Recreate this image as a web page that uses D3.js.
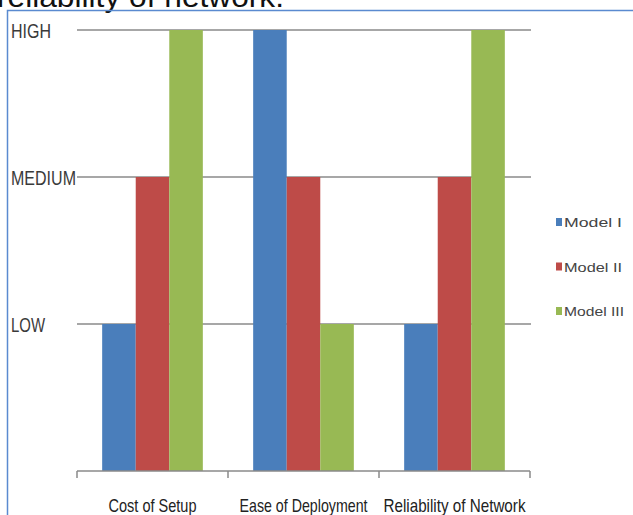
<!DOCTYPE html>
<html>
<head>
<meta charset="utf-8">
<script src="https://cdn.jsdelivr.net/npm/d3@7/dist/d3.min.js"></script>
<style>
  html, body { margin: 0; padding: 0; background: #fff; overflow: hidden; }
  svg { display: block; }
  text { font-family: "Liberation Sans", Arial, sans-serif; }
</style>
</head>
<body>
<script>
// Comparison of three deployment models on a LOW / MEDIUM / HIGH scale
const categories = ["Cost of Setup", "Ease of Deployment", "Reliability of Network"];
const seriesNames = ["Model I", "Model II", "Model III"];
const model1 = [1, 3, 1];
const model2 = [2, 2, 2];
const model3 = [3, 1, 3];
const levelLabels = ["LOW", "MEDIUM", "HIGH"];
const levelValues = [1, 2, 3];
const colors = ["#4a7ebb", "#be4b48", "#98b954"];

const W = 633, H = 515;
const svg = d3.select("body").append("svg").attr("width", W).attr("height", H);

// Caption line above the chart frame (only its lower part fits on the page)
svg.append("text")
  .attr("x", -3).attr("y", 7)
  .attr("font-size", 30).attr("fill", "#111")
  .attr("textLength", 287).attr("lengthAdjust", "spacingAndGlyphs")
  .text("reliability of network.");

// Chart frame
svg.append("rect")
  .attr("x", 7.5).attr("y", 10.5).attr("width", 700).attr("height", 600)
  .attr("fill", "none").attr("stroke", "#5a8ad0").attr("stroke-width", 1.5);

const plot = { left: 77, right: 530, top: 30, bottom: 471 };

const x = d3.scaleBand().domain(categories)
  .range([plot.left, plot.right]).paddingInner(1 / 3).paddingOuter(1 / 6);
const xs = d3.scaleBand().domain(seriesNames).range([0, x.bandwidth()]);
const y = d3.scaleLinear().domain([0, 3]).range([plot.bottom, plot.top]);

// Horizontal gridlines with level labels
const grid = svg.append("g");
grid.selectAll("line").data(levelValues).join("line")
  .attr("x1", plot.left).attr("x2", plot.right + 1)
  .attr("y1", d => y(d)).attr("y2", d => y(d))
  .attr("stroke", "#8a8a8a").attr("stroke-width", 1.5);

const labelWidths = { LOW: 34, MEDIUM: 65, HIGH: 40 };
grid.selectAll("text").data(levelValues).join("text")
  .attr("x", 11).attr("y", d => y(d) + 8)
  .attr("font-size", 21).attr("fill", "#3a3a3a")
  .attr("textLength", (d, i) => labelWidths[levelLabels[i]])
  .attr("lengthAdjust", "spacingAndGlyphs")
  .text((d, i) => levelLabels[i]);

// Bars
const series = [model1, model2, model3];
const bars = svg.append("g");
series.forEach((vals, si) => {
  bars.selectAll(null).data(categories).join("rect")
    .attr("x", c => x(c) + xs(seriesNames[si]))
    .attr("width", xs.bandwidth())
    .attr("y", (c, i) => y(vals[i]))
    .attr("height", (c, i) => y(0) - y(vals[i]))
    .attr("fill", colors[si]);
});

// Category axis with ticks between the groups
const axis = svg.append("g");
axis.append("line")
  .attr("x1", plot.left).attr("x2", plot.right)
  .attr("y1", y(0)).attr("y2", y(0))
  .attr("stroke", "#8a8a8a").attr("stroke-width", 1.5);
const gap = (x.step() - x.bandwidth()) / 2;
const bounds = categories.map(c => x(c) - gap).concat([x(categories[categories.length - 1]) + x.bandwidth() + gap]);
axis.selectAll("line.tick").data(bounds).join("line")
  .attr("class", "tick")
  .attr("x1", d => d).attr("x2", d => d)
  .attr("y1", y(0)).attr("y2", y(0) + 7)
  .attr("stroke", "#8a8a8a").attr("stroke-width", 1.5);

const catWidths = [88, 128, 142];
axis.selectAll("text").data(categories).join("text")
  .attr("x", c => x(c) + x.bandwidth() / 2)
  .attr("y", 512)
  .attr("text-anchor", "middle")
  .attr("font-size", 19).attr("fill", "#222")
  .attr("textLength", (c, i) => catWidths[i])
  .attr("lengthAdjust", "spacingAndGlyphs")
  .text(c => c);

// Legend
const legendY = d3.scalePoint().domain(seriesNames).range([222, 311]);
const legend = svg.append("g");
const legendWidths = [58, 58, 60];
seriesNames.forEach((name, i) => {
  legend.append("rect")
    .attr("x", 556).attr("y", legendY(name) - 4)
    .attr("width", 6).attr("height", 8)
    .attr("fill", colors[i]);
  legend.append("text")
    .attr("x", 564).attr("y", legendY(name) + 5)
    .attr("font-size", 13.5).attr("fill", "#444")
    .attr("textLength", legendWidths[i]).attr("lengthAdjust", "spacingAndGlyphs")
    .text(name);
});
</script>
</body>
</html>
